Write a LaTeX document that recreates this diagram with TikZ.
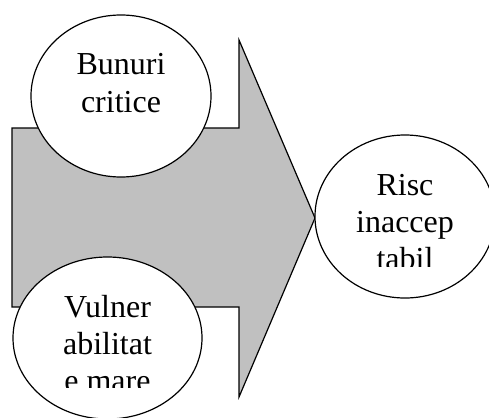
\documentclass[tikz,border=0pt]{standalone}
\usepackage{fontspec}
\setmainfont{Liberation Serif}
\usetikzlibrary{positioning,shapes.geometric}
\definecolor{arrowgrey}{RGB}{192,192,192}
\tikzset{
  bubble/.style={ellipse,draw=black,fill=white,line width=1.2pt,inner sep=0pt},
  bubbletext/.style={align=center,font=\fontsize{32}{37}\selectfont,anchor=base,inner sep=0pt}
}

\begin{document}
\begin{tikzpicture}[x=1pt,y=-1pt]
            \useasboundingbox (0,0) rectangle (489,417);

            \coordinate (t1) at (12,128);
            \coordinate (t2) at (239,128);
            \coordinate (t3) at (239,40);
            \coordinate (tip) at (315,218);
            \coordinate (b3) at (239,397);
            \coordinate (b2) at (239,307);
            \coordinate (b1) at (12,307);

            \filldraw[fill=arrowgrey, draw=black, line width=1.2pt] (t1) -- (t2) -- (t3) -- (tip) -- (b3) -- (b2) -- (b1) -- cycle;

            \node[bubble, minimum width=180pt, minimum height=162pt] (crit) at (121,96) {};
            \node[bubble, minimum width=189pt, minimum height=162pt] (vuln) at (107.5,338) {};
            \node[bubble, minimum width=180pt, minimum height=163pt] (risc) at (405,216.5) {};

            \begin{scope}
                \clip (crit.center) ++(-100,-90) rectangle ++(200,140);
                \path (crit.center) ++(0,16) node[bubbletext] (crittext) {Bunuri\\critice};
            \end{scope}
            \begin{scope}
                \clip (vuln.center) ++(-100,-90) rectangle ++(200,139);
                \path (vuln.center) ++(0,53) node[bubbletext] (vulntext) {Vulner\\abilitat\\e mare};
            \end{scope}
            \begin{scope}
                \clip (risc.center) ++(-100,-90) rectangle ++(200,139.5);
                \path (risc.center) ++(0,52.5) node[bubbletext] (risctext) {Risc\\inaccep\\tabil};
            \end{scope}
        \end{tikzpicture}
\end{document}
